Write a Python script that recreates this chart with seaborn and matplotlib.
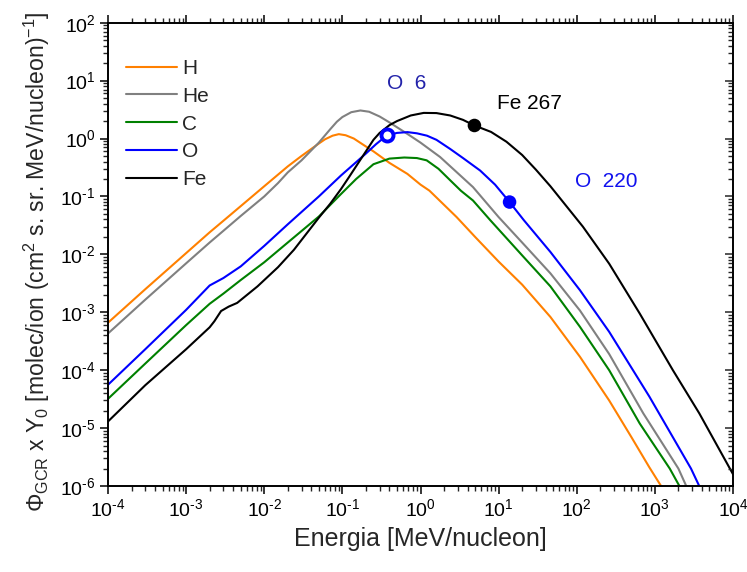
import matplotlib
matplotlib.use("Agg")
import matplotlib.pyplot as plt
import seaborn as sns
import pandas as pd
import numpy as np
from matplotlib.ticker import LogLocator, NullFormatter, FuncFormatter

# ---------------- data ----------------
E_H = [1e-4, 3e-4, 1e-3, 2e-3, 3e-3, 5e-3, 1e-2, 2e-2, 3e-2, 5e-2, 0.06, 0.075, 0.09, 0.11, 0.14,
       0.18, 0.25, 0.4, 0.68, 1.0, 1.3, 2.9, 5, 10, 20, 46, 110, 260, 500, 850, 1200, 2000]
H = [6.6e-4, 2.5e-3, 1.05e-2, 2.4e-2, 3.8e-2, 6.8e-2, 0.15, 0.33, 0.5, 0.82, 0.97, 1.12, 1.19, 1.14, 1.0,
     0.8, 0.6, 0.38, 0.245, 0.16, 0.126, 0.044, 0.02, 7.5e-3, 3e-3, 8.3e-4, 1.7e-4, 3e-5, 7e-6, 2.1e-6, 1e-6, 3e-7]

E_He = [1e-4, 3e-4, 1e-3, 2e-3, 3e-3, 5e-3, 1e-2, 1.5e-2, 2e-2, 3e-2, 5e-2, 0.07, 0.085, 0.1, 0.13, 0.17,
        0.22, 0.3, 0.4, 0.68, 1.0, 1.78, 4.7, 10, 20, 46, 110, 260, 710, 2000, 4000]
He = [4.3e-4, 1.65e-3, 7e-3, 1.6e-2, 2.55e-2, 4.6e-2, 0.1, 0.17, 0.26, 0.42, 0.85, 1.45, 1.95, 2.35, 2.85, 3.05,
      2.9, 2.4, 1.9, 1.2, 0.85, 0.48, 0.145, 0.044, 0.016, 4.7e-3, 1.07e-3, 1.9e-4, 1.8e-5, 2e-6, 2.5e-7]

E_C = [1e-4, 3e-4, 1e-3, 2e-3, 3e-3, 5e-3, 1e-2, 2e-2, 5e-2, 0.096, 0.15, 0.25, 0.4, 0.62, 0.9, 1.2, 1.7,
       2.4, 3.3, 4.7, 7.8, 20, 46, 110, 260, 640, 1550, 3000]
C = [3.2e-5, 1.3e-4, 6e-4, 1.4e-3, 2.1e-3, 3.6e-3, 7.3e-3, 1.6e-2, 4.5e-2, 0.11, 0.2, 0.36, 0.45, 0.47, 0.46,
     0.42, 0.3, 0.19, 0.125, 0.085, 0.039, 9.6e-3, 2.8e-3, 5.6e-4, 1e-4, 1.2e-5, 2e-6, 4e-7]

E_O = [1e-4, 3e-4, 1e-3, 2e-3, 3e-3, 5e-3, 1e-2, 2e-2, 5e-2, 0.096, 0.14, 0.2, 0.27, 0.37, 0.5, 0.68,
       0.9, 1.21, 1.6, 2.4, 3.5, 5.8, 9, 13.8, 21, 46, 110, 260, 850, 2900, 6000]
O = [5.6e-5, 2.3e-4, 1.1e-3, 2.9e-3, 3.9e-3, 6.2e-3, 1.4e-2, 3.3e-2, 0.1, 0.23, 0.36, 0.55, 0.8, 1.13, 1.25, 1.29,
     1.23, 1.12, 0.95, 0.66, 0.46, 0.28, 0.16, 0.08, 0.039, 0.011, 2.4e-3, 4.6e-4, 3.5e-5, 2e-6, 2.5e-7]

E_Fe = [1e-4, 3e-4, 1e-3, 2e-3, 2.3e-3, 2.8e-3, 3.5e-3, 4.5e-3, 8.2e-3, 1.5e-2, 2.4e-2, 5e-2, 0.07, 0.096,
        0.12, 0.17, 0.2, 0.25, 0.3, 0.4, 0.5, 0.75, 1.1, 1.6, 2.4, 3.5, 4.9, 8, 12.6, 20, 30, 46, 120, 260,
        640, 1700, 3700, 1e4]
Fe = [1.3e-5, 5.5e-5, 2.3e-4, 5.5e-4, 7e-4, 1.05e-3, 1.25e-3, 1.45e-3, 2.8e-3, 6e-3, 1.2e-2, 4.3e-2, 0.075, 0.134,
      0.21, 0.43, 0.6, 0.95, 1.25, 1.7, 2.0, 2.5, 2.77, 2.75, 2.5, 2.1, 1.68, 1.3, 0.88, 0.52, 0.29, 0.15, 0.03,
      6.9e-3, 9.5e-4, 1e-4, 1.8e-5, 1.6e-6]

series_names = ["H", "He", "C", "O", "Fe"]
colors = ["#ff8000", "#808080", "#008000", "#0000ff", "#000000"]

# highlighted points
mark_open_E = [0.37]
mark_open_Y = [1.13]
mark_fill_E = [13.8, 4.9]
mark_fill_Y = [0.08, 1.68]
mark_fill_C = ["#0000ff", "#000000"]

labels_txt = ["O  6", "Fe 267", "O  220"]
labels_x = [0.37, 9.5, 96]
labels_y = [8.9, 4.0, 0.18]
labels_c = ["#2222aa", "#000000", "#1111ee"]

# ---------------- build long table ----------------
frames = []
for name, e, v in zip(series_names, [E_H, E_He, E_C, E_O, E_Fe], [H, He, C, O, Fe]):
    frames.append(pd.DataFrame({"E": e, "Y": v, "ion": name}))
df = pd.concat(frames, ignore_index=True)

sns.set_theme(style="white")
plt.rcParams["font.family"] = ["Liberation Sans", "DejaVu Sans"]
plt.rcParams["mathtext.fontset"] = "custom"
plt.rcParams["mathtext.rm"] = "Liberation Sans"
plt.rcParams["mathtext.it"] = "Liberation Sans"
plt.rcParams["mathtext.bf"] = "Liberation Sans:bold"

fig = plt.figure(figsize=(7.47, 5.72), dpi=100)
ax = fig.add_axes([108 / 747, 1 - 486 / 572, (733 - 108) / 747, (486 - 22.7) / 572])

sns.lineplot(data=df, x="E", y="Y", hue="ion", hue_order=series_names,
             palette=dict(zip(series_names, colors)), estimator=None, sort=True,
             linewidth=1.5, ax=ax, legend=False)

sns.scatterplot(x=mark_fill_E, y=mark_fill_Y, hue=mark_fill_C, palette={c: c for c in mark_fill_C},
                s=95, edgecolor="none", ax=ax, legend=False, zorder=5)
ax.scatter(mark_open_E, mark_open_Y, s=75, facecolor="white", edgecolor="#0000ff",
           linewidth=2.8, zorder=6)

for t, x, y, c in zip(labels_txt, labels_x, labels_y, labels_c):
    ax.text(x, y, t, color=c, fontsize=15, ha="left", va="center")

ax.set_xscale("log")
ax.set_yscale("log")
ax.set_xlim(1e-4, 1e4)
ax.set_ylim(1e-6, 1e2)

def fmt(v, pos):
    e = int(round(np.log10(v)))
    if e < 0:
        return r"$10^{\text{-}%d}$" % (-e)
    return r"$10^{%d}$" % e

for axis in (ax.xaxis, ax.yaxis):
    axis.set_major_locator(LogLocator(base=10, numticks=20))
    axis.set_minor_locator(LogLocator(base=10, subs=np.arange(2, 10), numticks=20))
    axis.set_major_formatter(FuncFormatter(fmt))
    axis.set_minor_formatter(NullFormatter())

for sp in ax.spines.values():
    sp.set_linewidth(1.2)
    sp.set_color("black")

ax.tick_params(axis="both", which="major", direction="out", length=6, width=1.1,
               labelsize=14, colors="black", top=True, bottom=True, left=True, right=False)
ax.tick_params(axis="both", which="minor", direction="out", length=3.5, width=1.0,
               top=True, bottom=True, left=True, right=False)
ax.tick_params(axis="x", pad=3)
ax.tick_params(axis="y", pad=3)

axr = ax.twinx()
axr.set_yscale("log")
axr.set_ylim(1e-6, 1e2)
axr.yaxis.set_major_locator(LogLocator(base=10, numticks=20))
axr.yaxis.set_minor_locator(LogLocator(base=10, subs=np.arange(2, 10), numticks=20))
axr.yaxis.set_major_formatter(NullFormatter())
axr.yaxis.set_minor_formatter(NullFormatter())
axr.tick_params(axis="y", which="major", direction="in", length=6, width=1.1)
axr.tick_params(axis="y", which="minor", direction="in", length=3.5, width=1.0)
for sp in axr.spines.values():
    sp.set_linewidth(1.2)
    sp.set_color("black")

ax.set_xlabel("Energia [MeV/nucleon]", fontsize=18, labelpad=5)
ax.set_ylabel("Φ$_{\\mathrm{GCR}}$ x Y$_0$ [molec/ion (cm$^2$ s. sr. MeV/nucleon)$^{-1}$]",
              fontsize=16.6)
ax.yaxis.set_label_coords(-0.09, 0.485)

handles = ax.get_lines()[:5]
ax.legend(handles, series_names, loc="upper left", frameon=False, fontsize=15,
          handlelength=2.45, handletextpad=0.25, labelspacing=0.42,
          borderpad=0, borderaxespad=0,
          bbox_to_anchor=((126 - 108) / 625, (486 - 59) / 463.3))

fig.savefig("out.png", dpi=100)
